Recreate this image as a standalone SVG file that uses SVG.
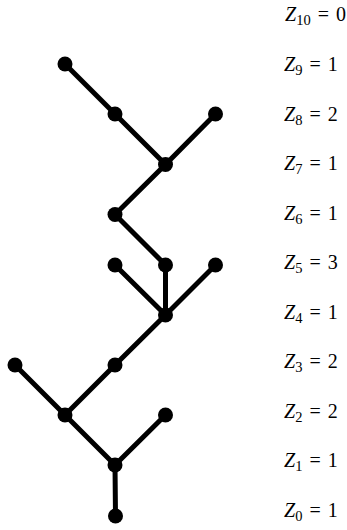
<svg xmlns="http://www.w3.org/2000/svg" width="347" height="530" viewBox="0 0 347 530">
<style>
.e{stroke:#000;stroke-width:5;stroke-linecap:round;fill:none}
.n{fill:#000}
.t{font-family:"Liberation Serif","Times New Roman",serif;font-size:20px;fill:#000;word-spacing:2px}
.z{font-style:italic}
.s{font-size:14.5px}
</style>
<rect width="347" height="530" fill="#fff"/>
<g id="connectors">
<line class="e" x1="65" y1="64" x2="115" y2="114"/>
<line class="e" x1="115" y1="114" x2="165.5" y2="164.5"/>
<line class="e" x1="215.5" y1="114" x2="165.5" y2="164.5"/>
<line class="e" x1="165.5" y1="164.5" x2="115" y2="214.5"/>
<line class="e" x1="115" y1="214.5" x2="165.5" y2="265"/>
<line class="e" x1="115" y1="265" x2="165.5" y2="315"/>
<line class="e" x1="165.5" y1="265" x2="165.5" y2="315"/>
<line class="e" x1="215.5" y1="265" x2="165.5" y2="315"/>
<line class="e" x1="165.5" y1="315" x2="115" y2="365"/>
<line class="e" x1="115" y1="365" x2="65" y2="415"/>
<line class="e" x1="15" y1="365" x2="65" y2="415"/>
<line class="e" x1="65" y1="415" x2="115" y2="465"/>
<line class="e" x1="165.5" y1="415" x2="115" y2="465"/>
<line class="e" x1="115" y1="465" x2="115.5" y2="516"/>
</g>
<g id="n9a"><circle class="n" cx="65" cy="64" r="7.5"/></g>
<g id="n8a"><circle class="n" cx="115" cy="114" r="7.5"/></g>
<g id="n8b"><circle class="n" cx="215.5" cy="114" r="7.5"/></g>
<g id="n7a"><circle class="n" cx="165.5" cy="164.5" r="7.5"/></g>
<g id="n6a"><circle class="n" cx="115" cy="214.5" r="7.5"/></g>
<g id="n5a"><circle class="n" cx="115" cy="265" r="7.5"/></g>
<g id="n5b"><circle class="n" cx="165.5" cy="265" r="7.5"/></g>
<g id="n5c"><circle class="n" cx="215.5" cy="265" r="7.5"/></g>
<g id="n4a"><circle class="n" cx="165.5" cy="315" r="7.5"/></g>
<g id="n3a"><circle class="n" cx="15" cy="365" r="7.5"/></g>
<g id="n3b"><circle class="n" cx="115" cy="365" r="7.5"/></g>
<g id="n2a"><circle class="n" cx="65" cy="415" r="7.5"/></g>
<g id="n2b"><circle class="n" cx="165.5" cy="415" r="7.5"/></g>
<g id="n1a"><circle class="n" cx="115" cy="465" r="7.5"/></g>
<g id="n0a"><circle class="n" cx="115.5" cy="516" r="7.5"/></g>
<g id="labels">
<text class="t" x="285" y="21"><tspan class="z">Z</tspan><tspan class="s" dy="4">10</tspan><tspan dy="-4"> = 0</tspan></text>
<text class="t" x="284" y="71"><tspan class="z">Z</tspan><tspan class="s" dy="4">9</tspan><tspan dy="-4"> = 1</tspan></text>
<text class="t" x="284" y="120.5"><tspan class="z">Z</tspan><tspan class="s" dy="4">8</tspan><tspan dy="-4"> = 2</tspan></text>
<text class="t" x="284" y="170"><tspan class="z">Z</tspan><tspan class="s" dy="4">7</tspan><tspan dy="-4"> = 1</tspan></text>
<text class="t" x="284" y="219.5"><tspan class="z">Z</tspan><tspan class="s" dy="4">6</tspan><tspan dy="-4"> = 1</tspan></text>
<text class="t" x="284" y="269"><tspan class="z">Z</tspan><tspan class="s" dy="4">5</tspan><tspan dy="-4"> = 3</tspan></text>
<text class="t" x="284" y="318.5"><tspan class="z">Z</tspan><tspan class="s" dy="4">4</tspan><tspan dy="-4"> = 1</tspan></text>
<text class="t" x="284" y="368"><tspan class="z">Z</tspan><tspan class="s" dy="4">3</tspan><tspan dy="-4"> = 2</tspan></text>
<text class="t" x="284" y="417.5"><tspan class="z">Z</tspan><tspan class="s" dy="4">2</tspan><tspan dy="-4"> = 2</tspan></text>
<text class="t" x="284" y="467"><tspan class="z">Z</tspan><tspan class="s" dy="4">1</tspan><tspan dy="-4"> = 1</tspan></text>
<text class="t" x="284" y="516.5"><tspan class="z">Z</tspan><tspan class="s" dy="4">0</tspan><tspan dy="-4"> = 1</tspan></text>
</g>
</svg>
